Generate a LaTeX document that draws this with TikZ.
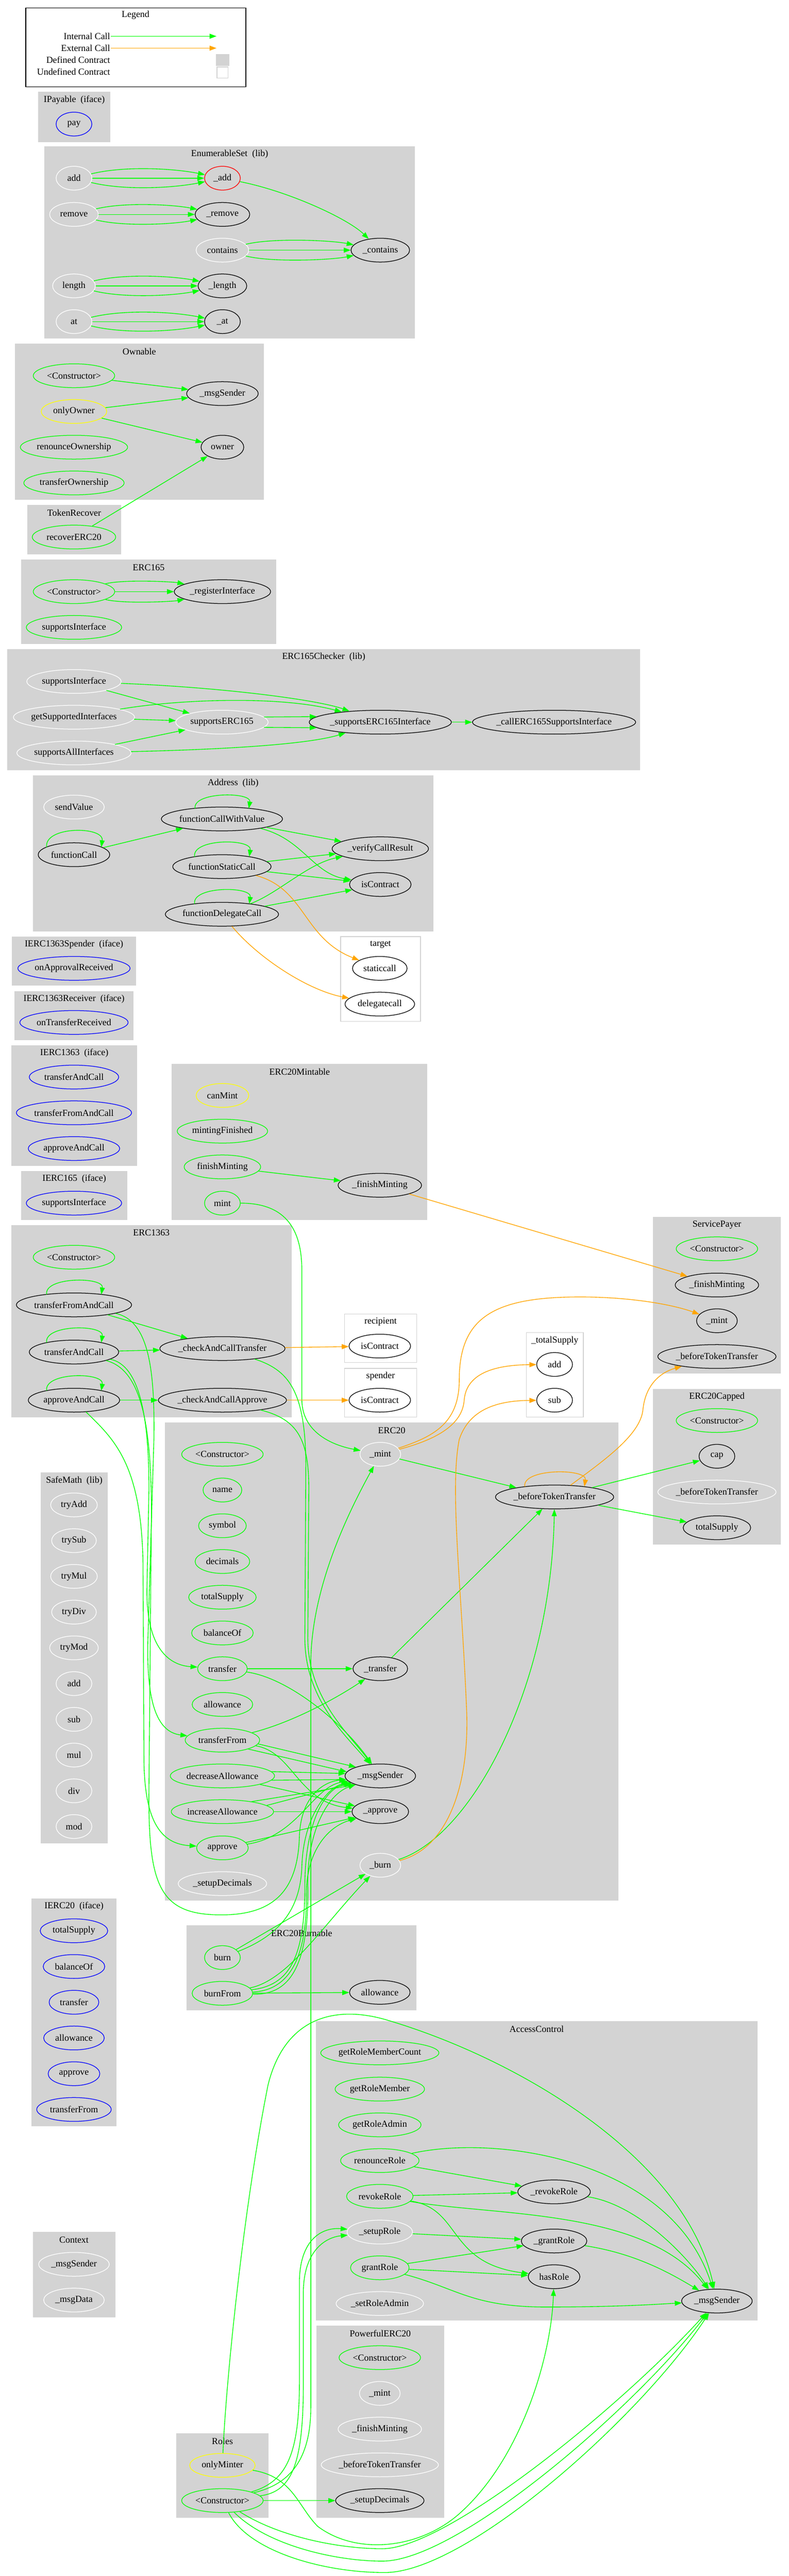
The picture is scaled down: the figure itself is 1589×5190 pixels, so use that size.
\documentclass[tikz,border=0pt]{standalone}
\usepackage{fontspec}
\setmainfont{Liberation Serif}
\usetikzlibrary{shapes.geometric,arrows.meta,calc}
\definecolor{cgreen}{HTML}{00FF00}
\definecolor{corange}{HTML}{FFA500}
\definecolor{cgray}{HTML}{D3D3D3}
\definecolor{cblue}{HTML}{0000FF}
\definecolor{cred}{HTML}{FF0000}
\definecolor{cyellow}{HTML}{FFFF00}
\newcommand\mkn[6]{\node[fn=#5,minimum width=#4pt] (#1) at (#2,#3) {#6};}
\newcommand\mkcl[6]{\fill[cgray] (#2,#3) rectangle (#4,#5); \node[ttl] (#1) at ({(#2+#4)/2},{#3+16}) {#6};}
\newcommand\mkun[6]{\filldraw[fill=white,draw=cgray,line width=1.3pt] (#2,#3) rectangle (#4,#5); \node[ttl] (#1) at ({(#2+#4)/2},{#3+16}) {#6};}
\newcommand\tripl[2]{\draw[ic] (#1) .. controls +(100,-25) and +(-100,-20) .. (#2);
  \draw[ic] (#1) -- (#2);
  \draw[ic] (#1) .. controls +(100,25) and +(-100,20) .. (#2);}
\newcommand\sloop[5]{\draw[#5] ($(#1)+(-#2,-#3)$) .. controls +(-6,-#4) and +(6,-#4) .. ($(#1)+(#2,-#3)$);}
\begin{document}
\begin{tikzpicture}[x=1pt,y=-1pt,
  fn/.style={ellipse,draw=#1,line width=1.3pt,minimum height=48pt,inner sep=0pt,font=\fontsize{18.6}{22}\selectfont},
  ttl/.style={font=\fontsize{18.6}{22}\selectfont,inner sep=0pt},
  lbl/.style={font=\fontsize{18.6}{22}\selectfont,inner sep=1pt},
  ic/.style={draw=cgreen,line width=1.4pt,-{Triangle[length=14pt,width=10pt]}},
  ec/.style={draw=corange,line width=1.4pt,-{Triangle[length=14pt,width=10pt]}}]
\useasboundingbox (0,0) rectangle (1589,5190);
% ---------- Legend
\draw[black,line width=1.3pt,fill=white] (52,16) rectangle (495,175);
\node[ttl] (lgT) at (273,30) {Legend};
\node[lbl,anchor=east] (lgI) at (223,73) {Internal Call};
\node[lbl,anchor=east] (lgE) at (223,97) {External Call};
\node[lbl,anchor=east] (lgD) at (223,121) {Defined Contract};
\node[lbl,anchor=east] (lgU) at (223,145) {Undefined Contract};
\coordinate (lgIe) at (436,73);
\coordinate (lgEe) at (436,97);
\fill[cgray] (435,109) rectangle (462,133);
\filldraw[fill=white,draw=cgray,line width=1.3pt] (437,135) rectangle (459,157);
% ---------- clusters
\mkcl{cIPay}{77}{185}{222}{286}{IPayable\ \ (iface)}
\mkcl{cES}{89}{295}{836}{682}{EnumerableSet\ \ (lib)}
\mkcl{cOw}{30}{692}{531}{1007}{Ownable}
\mkcl{cTR}{55}{1017}{244}{1117}{TokenRecover}
\mkcl{c165}{43}{1127}{556}{1298}{ERC165}
\mkcl{cCk}{15}{1308}{1289}{1552}{ERC165Checker\ \ (lib)}
\mkcl{cAd}{66}{1562}{873}{1877}{Address\ \ (lib)}
\mkun{cTg}{686}{1887}{847}{2058}{target}
\mkcl{cSp}{24}{1887}{274}{1986}{IERC1363Spender\ \ (iface)}
\mkcl{cRc}{29}{1997}{269}{2096}{IERC1363Receiver\ \ (iface)}
\mkcl{cI1363}{23}{2106}{276}{2349}{IERC1363\ \ (iface)}
\mkcl{cI165}{43}{2359}{256}{2458}{IERC165\ \ (iface)}
\mkcl{cMint}{346}{2143}{861}{2458}{ERC20Mintable}
\mkcl{c1363}{23}{2468}{587}{2856}{ERC1363}
\mkun{cRec}{694}{2647}{839}{2745}{recipient}
\mkun{cSpe}{694}{2757}{839}{2855}{spender}
\mkcl{cSP}{1315}{2452}{1573}{2767}{ServicePayer}
\mkun{cTS}{1060}{2685}{1175}{2855}{\_totalSupply}
\mkcl{cCap}{1315}{2798}{1573}{3112}{ERC20Capped}
\mkcl{c20}{332}{2866}{1246}{3829}{ERC20}
\mkcl{cSM}{82}{2967}{217}{3714}{SafeMath\ \ (lib)}
\mkcl{cI20}{63}{3825}{235}{4284}{IERC20\ \ (iface)}
\mkcl{cBurn}{376}{3879}{839}{4050}{ERC20Burnable}
\mkcl{cAC}{636}{4072}{1526}{4675}{AccessControl}
\mkcl{cCx}{66}{4497}{232}{4669}{Context}
\mkcl{cPw}{637}{4685}{895}{5073}{PowerfulERC20}
\mkcl{cRo}{355}{4902}{541}{5073}{Roles}
% ---------- nodes
\mkn{pay}{149}{250}{72}{cblue}{pay}
\mkn{esAdd}{149}{359}{72}{white}{add}
\mkn{esAddU}{448}{359}{72}{cred}{\_add}
\mkn{esRem}{149}{432}{98}{white}{remove}
\mkn{esRemU}{448}{432}{110}{black}{\_remove}
\mkn{esCon}{448}{504}{106}{white}{contains}
\mkn{esConU}{766}{504}{118}{black}{\_contains}
\mkn{esLen}{149}{576}{86}{white}{length}
\mkn{esLenU}{448}{576}{98}{black}{\_length}
\mkn{esAt}{149}{648}{72}{white}{at}
\mkn{esAtU}{448}{648}{72}{black}{\_at}
\mkn{owCtor}{149}{757}{164}{cgreen}{<Constructor>}
\mkn{owMsg}{448}{793}{144}{black}{\_msgSender}
\mkn{owOnly}{149}{829}{132}{cyellow}{onlyOwner}
\mkn{owOwner}{448}{901}{86}{black}{owner}
\mkn{owRen}{149}{901}{216}{cgreen}{renounceOwnership}
\mkn{owTr}{149}{973}{202}{cgreen}{transferOwnership}
\mkn{trRec}{149}{1082}{168}{cgreen}{recoverERC20}
\mkn{eCtor}{149}{1192}{164}{cgreen}{<Constructor>}
\mkn{eReg}{448}{1192}{194}{black}{\_registerInterface}
\mkn{eSup}{149}{1264}{192}{cgreen}{supportsInterface}
\mkn{ckSup}{149}{1373}{190}{white}{supportsInterface}
\mkn{ckGet}{149}{1445}{244}{white}{getSupportedInterfaces}
\mkn{ckAll}{149}{1517}{230}{white}{supportsAllInterfaces}
\mkn{ckE}{447}{1455}{186}{white}{supportsERC165}
\mkn{ckSI}{766}{1455}{284}{black}{\_supportsERC165Interface}
\mkn{ckCall}{1116}{1455}{322}{black}{\_callERC165SupportsInterface}
\mkn{adSend}{149}{1626}{122}{white}{sendValue}
\mkn{adFCV}{447}{1650}{244}{black}{functionCallWithValue}
\mkn{adFC}{149}{1722}{144}{black}{functionCall}
\mkn{adVCR}{766}{1710}{194}{black}{\_verifyCallResult}
\mkn{adFSC}{447}{1746}{198}{black}{functionStaticCall}
\mkn{adIC}{766}{1782}{124}{black}{isContract}
\mkn{adFDC}{447}{1842}{228}{black}{functionDelegateCall}
\mkn{tgStatic}{765}{1951}{110}{black}{staticcall}
\mkn{tgDel}{765}{2023}{140}{black}{delegatecall}
\mkn{spOn}{149}{1951}{226}{cblue}{onApprovalReceived}
\mkn{rcOn}{149}{2060}{218}{cblue}{onTransferReceived}
\mkn{iA}{149}{2170}{180}{cblue}{transferAndCall}
\mkn{iB}{149}{2242}{232}{cblue}{transferFromAndCall}
\mkn{iC}{149}{2314}{184}{cblue}{approveAndCall}
\mkn{iS}{149}{2424}{192}{cblue}{supportsInterface}
\mkn{mCan}{448}{2207}{106}{cyellow}{canMint}
\mkn{mFin}{448}{2279}{182}{cgreen}{mintingFinished}
\mkn{mFinish}{448}{2351}{154}{cgreen}{finishMinting}
\mkn{mMint}{448}{2424}{72}{cgreen}{mint}
\mkn{mFinU}{765}{2388}{168}{black}{\_finishMinting}
\mkn{xCtor}{149}{2533}{164}{cgreen}{<Constructor>}
\mkn{xTFAC}{149}{2629}{232}{black}{transferFromAndCall}
\mkn{xTAC}{149}{2724}{180}{black}{transferAndCall}
\mkn{xAAC}{149}{2821}{184}{black}{approveAndCall}
\mkn{xCCT}{448}{2717}{252}{black}{\_checkAndCallTransfer}
\mkn{xCCA}{448}{2821}{258}{black}{\_checkAndCallApprove}
\mkn{recIC}{765}{2712}{124}{black}{isContract}
\mkn{speIC}{765}{2821}{124}{black}{isContract}
\mkn{spCtor}{1444}{2516}{164}{cgreen}{<Constructor>}
\mkn{spFin}{1444}{2589}{168}{black}{\_finishMinting}
\mkn{spMint}{1444}{2661}{82}{black}{\_mint}
\mkn{spBTT}{1444}{2733}{238}{black}{\_beforeTokenTransfer}
\mkn{tsAdd}{1117}{2749}{72}{black}{add}
\mkn{tsSub}{1117}{2821}{72}{black}{sub}
\mkn{cCtor}{1444}{2862}{164}{cgreen}{<Constructor>}
\mkn{cCapN}{1444}{2934}{72}{black}{cap}
\mkn{cBTT}{1444}{3006}{238}{white}{\_beforeTokenTransfer}
\mkn{cTSN}{1444}{3078}{136}{black}{totalSupply}
\mkn{eCtor2}{448}{2930}{164}{cgreen}{<Constructor>}
\mkn{eName}{448}{3002}{78}{cgreen}{name}
\mkn{eSym}{448}{3074}{96}{cgreen}{symbol}
\mkn{eDecim}{448}{3146}{110}{cgreen}{decimals}
\mkn{eTS}{448}{3218}{136}{cgreen}{totalSupply}
\mkn{eBal}{448}{3290}{124}{cgreen}{balanceOf}
\mkn{eTr}{448}{3362}{100}{cgreen}{transfer}
\mkn{eAll}{448}{3434}{122}{cgreen}{allowance}
\mkn{eTF}{448}{3506}{150}{cgreen}{transferFrom}
\mkn{eDA}{448}{3578}{210}{cgreen}{decreaseAllowance}
\mkn{eIA}{448}{3650}{206}{cgreen}{increaseAllowance}
\mkn{eApp}{448}{3723}{104}{cgreen}{approve}
\mkn{eSD}{448}{3795}{178}{white}{\_setupDecimals}
\mkn{eMint}{766}{2930}{82}{white}{\_mint}
\mkn{eBTT}{1117}{3016}{238}{black}{\_beforeTokenTransfer}
\mkn{eTrU}{766}{3362}{110}{black}{\_transfer}
\mkn{eMsg}{766}{3578}{142}{black}{\_msgSender}
\mkn{eAppU}{766}{3650}{114}{black}{\_approve}
\mkn{eBurn}{766}{3758}{82}{white}{\_burn}
\mkn{smA}{149}{3032}{94}{white}{tryAdd}
\mkn{smB}{149}{3104}{90}{white}{trySub}
\mkn{smC}{149}{3176}{94}{white}{tryMul}
\mkn{smD}{149}{3248}{90}{white}{tryDiv}
\mkn{smE}{149}{3320}{98}{white}{tryMod}
\mkn{smF}{149}{3392}{72}{white}{add}
\mkn{smG}{149}{3464}{72}{white}{sub}
\mkn{smH}{149}{3536}{72}{white}{mul}
\mkn{smI}{149}{3608}{72}{white}{div}
\mkn{smJ}{149}{3680}{72}{white}{mod}
\mkn{i20a}{149}{3890}{136}{cblue}{totalSupply}
\mkn{i20b}{149}{3962}{124}{cblue}{balanceOf}
\mkn{i20c}{149}{4034}{100}{cblue}{transfer}
\mkn{i20d}{149}{4106}{122}{cblue}{allowance}
\mkn{i20e}{149}{4178}{104}{cblue}{approve}
\mkn{i20f}{149}{4250}{150}{cblue}{transferFrom}
\mkn{bBurn}{448}{3944}{72}{cgreen}{burn}
\mkn{bFrom}{448}{4016}{122}{cgreen}{burnFrom}
\mkn{bAll}{765}{4014}{122}{black}{allowance}
\mkn{acCount}{765}{4136}{238}{cgreen}{getRoleMemberCount}
\mkn{acMember}{765}{4209}{180}{cgreen}{getRoleMember}
\mkn{acAdmin}{765}{4281}{166}{cgreen}{getRoleAdmin}
\mkn{acRen}{765}{4353}{158}{cgreen}{renounceRole}
\mkn{acRev}{765}{4425}{134}{cgreen}{revokeRole}
\mkn{acSetup}{765}{4497}{132}{white}{\_setupRole}
\mkn{acGrant}{765}{4569}{118}{cgreen}{grantRole}
\mkn{acSetAdmin}{765}{4641}{176}{white}{\_setRoleAdmin}
\mkn{acRevU}{1116}{4416}{146}{black}{\_revokeRole}
\mkn{acGrantU}{1116}{4515}{132}{black}{\_grantRole}
\mkn{acHas}{1116}{4587}{104}{black}{hasRole}
\mkn{acMsg}{1444}{4636}{142}{black}{\_msgSender}
\mkn{cxMsg}{149}{4562}{142}{white}{\_msgSender}
\mkn{cxData}{149}{4634}{122}{white}{\_msgData}
\mkn{pCtor}{765}{4750}{164}{cgreen}{<Constructor>}
\mkn{pMint}{765}{4822}{82}{white}{\_mint}
\mkn{pFin}{765}{4894}{168}{white}{\_finishMinting}
\mkn{pBTT}{765}{4966}{236}{white}{\_beforeTokenTransfer}
\mkn{pSD}{765}{5038}{178}{black}{\_setupDecimals}
\mkn{rOnly}{448}{4967}{132}{cyellow}{onlyMinter}
\mkn{rCtor}{448}{5038}{164}{cgreen}{<Constructor>}
% ---------- edges: legend
\draw[ic] (lgI) -- (lgIe);
\draw[ec] (lgE) -- (lgEe);
% EnumerableSet
\tripl{esAdd}{esAddU}
\tripl{esRem}{esRemU}
\tripl{esCon}{esConU}
\tripl{esLen}{esLenU}
\tripl{esAt}{esAtU}
\draw[ic] (esAddU) .. controls (580,385) and (700,440) .. (esConU);
% Ownable / TokenRecover / ERC165
\draw[ic] (owCtor) -- (owMsg);
\draw[ic] (owOnly) -- (owMsg);
\draw[ic] (owOnly) -- (owOwner);
\draw[ic] (trRec) -- (owOwner);
\tripl{eCtor}{eReg}
% ERC165Checker
\draw[ic] (ckSup) .. controls (450,1385) and (640,1410) .. (ckSI);
\draw[ic] (ckSup) -- (ckE);
\draw[ic] (ckGet) .. controls (350,1410) and (560,1400) .. (ckSI);
\draw[ic] (ckGet) -- (ckE);
\draw[ic] (ckAll) -- (ckE);
\draw[ic] (ckAll) .. controls (450,1510) and (620,1500) .. (ckSI);
\draw[ic] (ckE.7) -- (ckSI.175);
\draw[ic] (ckE.-7) -- (ckSI.185);
\draw[ic] (ckSI) -- (ckCall);
% Address
\sloop{adFCV}{54}{21}{34}{ic}
\sloop{adFC}{55}{15}{43}{ic}
\sloop{adFSC}{55}{20}{37}{ic}
\sloop{adFDC}{55}{21}{36}{ic}
\draw[ic] (adFC) -- (adFCV);
\draw[ic] (adFCV) -- (adVCR);
\draw[ic] (adFCV) .. controls (610,1690) and (630,1760) .. (adIC);
\draw[ic] (adFSC) -- (adVCR);
\draw[ic] (adFSC) -- (adIC);
\draw[ic] (adFDC) .. controls (560,1800) and (620,1740) .. (adVCR);
\draw[ic] (adFDC) -- (adIC);
\draw[ec] (adFSC) .. controls (615,1790) and (610,1890) .. (tgStatic);
\draw[ec] (adFDC) .. controls (520,1930) and (620,1995) .. (tgDel);
% ERC20Mintable
\draw[ic] (mFinish) -- (mFinU);
\draw[ec] (mFinU) -- (spFin);
\draw[ic] (mMint) .. controls (570,2424) and (608,2470) .. (608,2560) -- (608,2820) .. controls (608,2880) and (660,2910) .. (eMint);
% ERC1363
\sloop{xTFAC}{55}{21}{36}{ic}
\sloop{xTAC}{55}{19}{37}{ic}
\sloop{xAAC}{55}{19}{38}{ic}
\draw[ic] (xTFAC) -- (xCCT);
\draw[ic] (xTAC) -- (xCCT);
\draw[ic] (xAAC) -- (xCCA);
\draw[ec] (xCCT) -- (recIC);
\draw[ec] (xCCA) -- (speIC);
\draw[ic] (xTFAC) .. controls (300,2660) and (312,2760) .. (310,2900) -- (298,3300) .. controls (294,3440) and (320,3490) .. (eTF);
\draw[ic] (xTAC) .. controls (280,2750) and (300,2850) .. (300,3000) -- (296,3200) .. controls (294,3320) and (340,3355) .. (eTr);
\draw[ic] (xTAC) .. controls (285,2760) and (305,2870) .. (305,3050) -- (300,3600) .. controls (298,3800) and (320,3858) .. (446,3858) .. controls (560,3858) and (600,3800) .. (603,3700) .. controls (606,3620) and (650,3590) .. (eMsg);
\draw[ic] (xAAC) .. controls (230,2900) and (285,2950) .. (288,3150) -- (290,3550) .. controls (292,3680) and (330,3715) .. (eApp);
\draw[ic] (xCCT) .. controls (580,2760) and (615,2800) .. (616,2950) -- (614,3300) .. controls (614,3420) and (690,3490) .. (eMsg);
\draw[ic] (xCCA) .. controls (600,2860) and (622,2900) .. (622,3000) -- (620,3300) .. controls (620,3420) and (700,3490) .. (eMsg);
% ERC20
\draw[ic] (eMint) -- (eBTT);
\draw[ec] (eMint) .. controls (870,2895) and (925,2870) .. (925,2780) .. controls (925,2650) and (1000,2612) .. (1176,2613) .. controls (1280,2614) and (1360,2630) .. (spMint);
\draw[ec] (eMint) .. controls (880,2900) and (932,2870) .. (935,2820) .. controls (940,2765) and (1000,2750) .. (tsAdd);
\sloop{eBTT}{60}{21}{37}{ec}
\draw[ec] (eBTT) .. controls (1220,2940) and (1290,2890) .. (1295,2840) .. controls (1300,2790) and (1330,2765) .. (spBTT);
\draw[ic] (eBTT) -- (cCapN);
\draw[ic] (eBTT) -- (cTSN);
\draw[ic] (eTrU) -- (eBTT);
\draw[ic] (eBurn) .. controls (950,3700) and (1110,3400) .. (eBTT);
\draw[ec] (eBurn) .. controls (900,3725) and (945,3600) .. (940,3450) .. controls (930,3200) and (905,3000) .. (925,2900) .. controls (945,2840) and (1000,2822) .. (tsSub);
\draw[ic] (eTr) -- (eTrU);
\draw[ic] (eTr) .. controls (580,3380) and (690,3470) .. (eMsg);
\draw[ic] (eTF) .. controls (590,3470) and (680,3420) .. (eTrU);
\draw[ic] (eTF.-6) -- (eMsg.160);
\draw[ic] (eTF.-19) -- (eMsg.173);
\draw[ic] (eTF) .. controls (590,3530) and (600,3630) .. (eAppU);
\draw[ic] (eDA.5) -- (eMsg.176);
\draw[ic] (eDA.-5) -- (eMsg.186);
\draw[ic] (eDA) -- (eAppU);
\draw[ic] (eIA.19) -- (eMsg.200);
\draw[ic] (eIA.8) -- (eMsg.194);
\draw[ic] (eIA) -- (eAppU);
\draw[ic] (eApp) -- (eAppU);
\draw[ic] (eApp) .. controls (600,3700) and (630,3600) .. (eMsg);
% ERC20Burnable
\draw[ic] (bBurn) -- (eBurn);
\draw[ic] (bBurn) .. controls (560,3900) and (605,3850) .. (608,3760) .. controls (611,3660) and (660,3600) .. (eMsg);
\draw[ic] (bFrom) -- (bAll);
\draw[ic] (bFrom) .. controls (580,3990) and (650,3880) .. (eBurn);
\draw[ic] (bFrom) .. controls (580,4000) and (614,3950) .. (614,3800) .. controls (614,3680) and (650,3605) .. (eMsg);
\draw[ic] (bFrom) .. controls (590,4020) and (622,3950) .. (620,3800) .. controls (618,3690) and (660,3615) .. (eMsg);
\draw[ic] (bFrom) .. controls (585,4010) and (618,3940) .. (617,3820) .. controls (616,3730) and (660,3680) .. (eAppU);
% Roles
\draw[ic] (rCtor) .. controls (560,5010) and (626,4980) .. (626,4850) -- (626,3350) .. controls (627,3200) and (700,3050) .. (eMint);
\draw[ic] (rCtor) .. controls (575,5000) and (603,4950) .. (603,4800) -- (603,4600) .. controls (603,4510) and (650,4487) .. (acSetup);
\draw[ic] (rCtor) .. controls (590,5020) and (611,4960) .. (611,4800) -- (611,4620) .. controls (611,4530) and (660,4507) .. (acSetup);
\draw[ic] (rCtor) -- (pSD);
\draw[ic] (rCtor) .. controls (560,5110) and (680,5135) .. (770,5135) .. controls (900,5135) and (1250,4850) .. (acMsg);
\draw[ic] (rCtor) .. controls (540,5130) and (680,5160) .. (770,5160) .. controls (920,5160) and (1270,4860) .. (acMsg);
\draw[ic] (rCtor) .. controls (500,5140) and (650,5183) .. (775,5183) .. controls (940,5183) and (1290,4870) .. (acMsg);
\draw[ic] (rOnly) .. controls (590,4990) and (600,5050) .. (640,5090) .. controls (720,5150) and (850,5135) .. (930,5060) .. controls (1050,4950) and (1110,4750) .. (acHas);
\draw[ic] (rOnly) .. controls (455,4800) and (490,4450) .. (540,4200) .. controls (575,4060) and (680,4040) .. (780,4070) .. controls (1050,4150) and (1380,4350) .. (acMsg);
% AccessControl
\draw[ic] (acRen) .. controls (1000,4300) and (1350,4350) .. (acMsg);
\draw[ic] (acRen) -- (acRevU);
\draw[ic] (acRev) -- (acRevU);
\draw[ic] (acRev) .. controls (1000,4465) and (1300,4450) .. (acMsg);
\draw[ic] (acRev) .. controls (930,4450) and (900,4560) .. (acHas);
\draw[ic] (acSetup) -- (acGrantU);
\draw[ic] (acGrant) -- (acGrantU);
\draw[ic] (acGrant) -- (acHas);
\draw[ic] (acGrant) .. controls (920,4610) and (950,4648) .. (1100,4648) .. controls (1250,4648) and (1330,4642) .. (acMsg);
\draw[ic] (acRevU) .. controls (1280,4440) and (1380,4540) .. (acMsg);
\draw[ic] (acGrantU) .. controls (1280,4540) and (1350,4580) .. (acMsg);
\end{tikzpicture}
\end{document}
